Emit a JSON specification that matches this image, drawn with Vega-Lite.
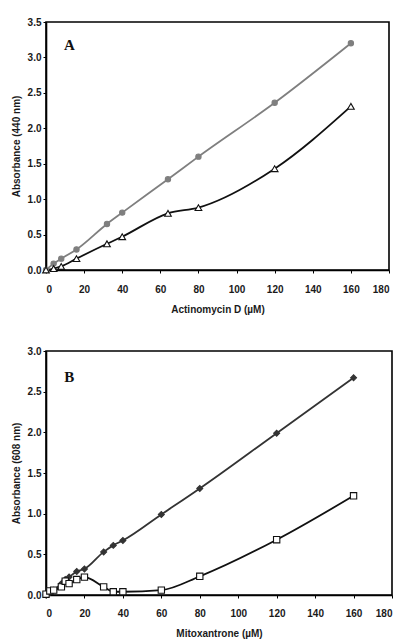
{
  "$schema": "https://vega.github.io/schema/vega-lite/v6.json",
  "padding": {"top": 16, "left": 10, "right": 0, "bottom": 0},
  "background": "white",
  "spacing": 30,
  "config": {
    "view": {"stroke": "#000000", "strokeWidth": 1.6, "strokeOpacity": 1},
    "axis": {
      "labelFont": "Liberation Sans",
      "labelFontWeight": "bold",
      "labelFontSize": 10,
      "labelColor": "#1a1a1a",
      "titleFont": "Liberation Sans",
      "titleFontWeight": "bold",
      "titleFontSize": 10,
      "titleColor": "#1a1a1a",
      "domainColor": "black",
      "domainWidth": 1.6,
      "tickColor": "black",
      "tickWidth": 1,
      "tickSize": 3,
      "grid": false
    }
  },
  "datasets": {
    "a": [
      {"x": 0, "y": 0, "s": "circ"},
      {"x": 4, "y": 0.09, "s": "circ"},
      {"x": 8, "y": 0.16, "s": "circ"},
      {"x": 16, "y": 0.29, "s": "circ"},
      {"x": 32, "y": 0.65, "s": "circ"},
      {"x": 40, "y": 0.81, "s": "circ"},
      {"x": 64, "y": 1.28, "s": "circ"},
      {"x": 80, "y": 1.6, "s": "circ"},
      {"x": 120, "y": 2.36, "s": "circ"},
      {"x": 160, "y": 3.2, "s": "circ"},
      {"x": 0, "y": 0, "s": "tri"},
      {"x": 4, "y": 0.02, "s": "tri"},
      {"x": 8, "y": 0.05, "s": "tri"},
      {"x": 16, "y": 0.16, "s": "tri"},
      {"x": 32, "y": 0.37, "s": "tri"},
      {"x": 40, "y": 0.47, "s": "tri"},
      {"x": 64, "y": 0.8, "s": "tri"},
      {"x": 80, "y": 0.88, "s": "tri"},
      {"x": 120, "y": 1.43, "s": "tri"},
      {"x": 160, "y": 2.31, "s": "tri"}
    ],
    "b": [
      {"x": 0, "y": 0, "s": "dia"},
      {"x": 2, "y": 0.03, "s": "dia"},
      {"x": 4, "y": 0.06, "s": "dia"},
      {"x": 8, "y": 0.14, "s": "dia"},
      {"x": 10, "y": 0.19, "s": "dia"},
      {"x": 12, "y": 0.22, "s": "dia"},
      {"x": 16, "y": 0.29, "s": "dia"},
      {"x": 20, "y": 0.32, "s": "dia"},
      {"x": 30, "y": 0.53, "s": "dia"},
      {"x": 35, "y": 0.61, "s": "dia"},
      {"x": 40, "y": 0.67, "s": "dia"},
      {"x": 60, "y": 0.99, "s": "dia"},
      {"x": 80, "y": 1.31, "s": "dia"},
      {"x": 120, "y": 1.99, "s": "dia"},
      {"x": 160, "y": 2.67, "s": "dia"},
      {"x": 0, "y": 0.01, "s": "sq"},
      {"x": 2, "y": 0.05, "s": "sq"},
      {"x": 4, "y": 0.06, "s": "sq"},
      {"x": 8, "y": 0.1, "s": "sq"},
      {"x": 10, "y": 0.17, "s": "sq"},
      {"x": 12, "y": 0.14, "s": "sq"},
      {"x": 16, "y": 0.19, "s": "sq"},
      {"x": 20, "y": 0.22, "s": "sq"},
      {"x": 30, "y": 0.1, "s": "sq"},
      {"x": 35, "y": 0.04, "s": "sq"},
      {"x": 40, "y": 0.04, "s": "sq"},
      {"x": 60, "y": 0.06, "s": "sq"},
      {"x": 80, "y": 0.23, "s": "sq"},
      {"x": 120, "y": 0.68, "s": "sq"},
      {"x": 160, "y": 1.22, "s": "sq"}
    ]
  },
  "vconcat": [
    {
      "width": 343,
      "height": 248,
      "data": {"name": "a"},
      "encoding": {
        "x": {"field": "x", "type": "quantitative", "scale": {"domain": [0, 180], "nice": false}, "axis": {"values": [0,20,40,60,80,100,120,140,160,180], "title": "Actinomycin D (µM)", "labelPadding": 11, "titlePadding": 10}},
        "y": {"field": "y", "type": "quantitative", "scale": {"domain": [0, 3.5], "nice": false}, "axis": {"values": [0,0.5,1,1.5,2,2.5,3,3.5], "format": ".1f", "title": "Absorbance (440 nm)", "labelPadding": 2, "titlePadding": 6}}
      },
      "layer": [
        {
          "mark": {"type": "line", "interpolate": "monotone", "strokeWidth": 1.8},
          "encoding": {
            "color": {"field": "s", "type": "nominal", "scale": {"domain": ["circ", "tri"], "range": ["#7f7f7f", "#111111"]}, "legend": null}
          }
        },
        {
          "mark": {"type": "point", "filled": true, "strokeWidth": 1.1, "opacity": 1},
          "encoding": {
            "shape": {"field": "s", "type": "nominal", "scale": {"domain": ["circ", "tri"], "range": ["circle", "triangle-up"]}, "legend": null},
            "fill": {"field": "s", "type": "nominal", "scale": {"domain": ["circ", "tri"], "range": ["#7f7f7f", "white"]}, "legend": null},
            "stroke": {"field": "s", "type": "nominal", "scale": {"domain": ["circ", "tri"], "range": ["#7f7f7f", "#111111"]}, "legend": null},
            "size": {"field": "s", "type": "nominal", "scale": {"domain": ["circ", "tri"], "range": [28, 45]}, "legend": null}
          }
        },
        {
          "data": {"values": [{"x": 9.5, "y": 3.1, "t": "A"}]},
          "mark": {"type": "text", "align": "left", "baseline": "alphabetic", "font": "Liberation Serif", "fontWeight": "bold", "fontSize": 15, "color": "#111"},
          "encoding": {"text": {"field": "t"}}
        }
      ]
    },
    {
      "width": 346,
      "height": 244,
      "data": {"name": "b"},
      "encoding": {
        "x": {"field": "x", "type": "quantitative", "scale": {"domain": [0, 180], "nice": false}, "axis": {"values": [0,20,40,60,80,100,120,140,160,180], "title": "Mitoxantrone (µM)", "labelPadding": 10, "titlePadding": 10}},
        "y": {"field": "y", "type": "quantitative", "scale": {"domain": [0, 3], "nice": false}, "axis": {"values": [0,0.5,1,1.5,2,2.5,3], "format": ".1f", "title": "Absorbance (608 nm)", "labelPadding": 2, "titlePadding": 6}}
      },
      "layer": [
        {
          "mark": {"type": "line", "interpolate": "monotone", "strokeWidth": 1.8},
          "encoding": {
            "color": {"field": "s", "type": "nominal", "scale": {"domain": ["dia", "sq"], "range": ["#333333", "#111111"]}, "legend": null}
          }
        },
        {
          "mark": {"type": "point", "filled": true, "strokeWidth": 1.1, "opacity": 1},
          "encoding": {
            "shape": {"field": "s", "type": "nominal", "scale": {"domain": ["dia", "sq"], "range": ["diamond", "square"]}, "legend": null},
            "fill": {"field": "s", "type": "nominal", "scale": {"domain": ["dia", "sq"], "range": ["#333333", "white"]}, "legend": null},
            "stroke": {"field": "s", "type": "nominal", "scale": {"domain": ["dia", "sq"], "range": ["#333333", "#111111"]}, "legend": null},
            "size": {"field": "s", "type": "nominal", "scale": {"domain": ["dia", "sq"], "range": [35, 40]}, "legend": null}
          }
        },
        {
          "data": {"values": [{"x": 9.5, "y": 2.62, "t": "B"}]},
          "mark": {"type": "text", "align": "left", "baseline": "alphabetic", "font": "Liberation Serif", "fontWeight": "bold", "fontSize": 15, "color": "#111"},
          "encoding": {"text": {"field": "t"}}
        }
      ]
    }
  ],
  "resolve": {"scale": {"color": "independent", "shape": "independent", "fill": "independent", "stroke": "independent", "size": "independent"}}
}
